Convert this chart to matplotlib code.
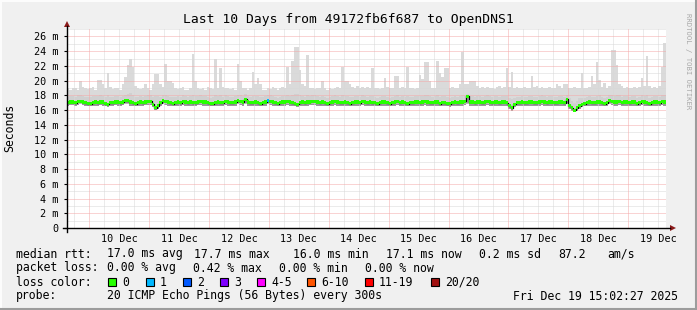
import numpy as np
import matplotlib
matplotlib.use("Agg")
import matplotlib.pyplot as plt
from matplotlib.patches import Rectangle, Polygon
from matplotlib.lines import Line2D

# ---------------- data (hourly bins, Dec 9 15:00 -> Dec 19 15:00), values in ms ----------------
max_ms = [
    19.0,18.8,19.0,19.0,18.8,20.0,19.2,19.0,18.9,19.0,19.1,18.8,20.1,20.1,19.5,19.0,21.1,19.2,18.9,19.0,19.0,18.8,19.5,20.5,
    22.1,22.9,21.8,19.3,19.0,18.9,19.0,19.5,19.0,18.8,19.5,20.9,20.9,19.5,19.2,22.2,20.0,20.0,19.7,19.0,18.9,19.0,19.1,18.8,
    18.8,19.0,23.6,20.0,19.0,18.9,19.0,18.8,19.1,19.0,18.9,23.0,19.0,21.7,19.2,19.0,19.0,18.9,19.0,18.8,22.3,20.0,19.0,19.0,
    18.8,19.0,21.2,19.5,20.3,19.6,18.8,18.8,19.0,18.9,19.1,19.0,18.8,19.0,19.2,19.0,21.9,19.5,22.7,24.6,24.6,21.5,19.5,19.3,
    23.5,19.0,19.0,18.9,19.0,19.0,20.0,19.0,18.8,19.0,18.9,19.0,19.1,19.0,21.9,20.0,20.0,19.5,19.2,19.0,19.3,19.0,19.2,19.0,
    19.1,19.0,21.7,19.0,19.0,18.9,19.0,20.3,19.2,19.0,19.0,20.7,20.7,19.0,19.2,19.0,21.9,19.0,19.0,18.9,19.0,20.8,20.2,22.5,
    22.5,20.0,19.0,19.0,22.7,21.0,20.5,21.7,21.7,19.0,19.2,19.0,19.0,19.5,23.9,19.5,19.5,20.0,20.0,20.0,19.3,19.0,19.1,19.0,
    19.1,19.0,19.0,18.9,19.2,19.3,19.0,19.1,21.7,19.2,21.2,19.0,19.1,19.0,19.0,19.2,19.0,19.0,20.6,19.2,19.3,19.0,19.2,19.0,
    19.0,19.2,19.0,19.0,19.5,19.3,19.0,19.6,19.5,19.0,19.0,19.2,19.0,19.0,21.0,19.0,19.0,19.2,20.7,19.5,22.5,20.1,19.2,19.7,
    19.0,19.3,24.1,24.1,22.1,19.5,19.3,19.0,19.2,19.0,19.0,19.2,19.0,19.1,20.3,19.3,23.3,19.3,19.0,19.2,19.0,19.3,21.9,25.1,
]
hi_ms = [
    17.8,17.9,17.9,17.8,18.0,18.0,17.9,17.8,17.8,17.8,17.9,17.9,17.9,18.0,17.9,17.8,18.0,17.8,17.8,17.9,17.9,17.8,17.9,18.1,
    18.2,18.3,18.1,17.8,17.8,17.9,17.8,17.9,18.0,18.0,17.8,17.9,17.9,17.8,18.0,18.1,17.9,17.8,17.8,17.8,17.9,17.8,18.0,17.9,
    17.8,17.9,18.1,17.9,17.9,18.0,17.9,17.9,17.8,17.7,17.8,18.1,17.9,18.0,17.8,18.0,17.9,17.8,17.8,17.9,18.1,18.0,17.9,18.2,
    17.9,17.8,17.9,17.9,17.9,17.8,17.8,17.9,18.1,18.0,17.9,17.8,17.7,17.8,17.9,17.9,18.0,17.9,18.1,18.2,18.2,18.0,17.9,17.8,
    18.1,17.9,18.0,18.0,17.9,17.8,17.9,17.8,17.7,17.8,17.9,18.0,17.9,17.8,18.0,17.9,17.9,17.8,17.8,17.9,17.9,17.8,18.0,17.9,
    17.8,17.9,17.9,17.8,17.7,17.8,17.9,17.9,17.8,17.7,17.8,17.9,18.0,17.8,17.9,17.8,17.9,17.8,17.8,17.9,17.9,17.9,17.9,18.1,
    18.1,17.9,17.8,17.9,18.0,17.8,17.9,17.9,17.8,17.7,17.8,17.9,17.8,17.9,18.0,18.0,18.2,17.9,17.9,17.8,17.9,17.9,17.8,17.9,
    18.0,17.9,17.8,17.9,17.9,17.8,17.9,17.9,17.9,17.6,17.5,17.7,17.8,17.8,17.9,17.8,17.8,17.9,17.9,17.8,17.8,17.9,18.0,17.9,
    17.8,17.9,17.9,17.8,17.8,17.9,17.9,17.8,18.1,17.6,17.3,17.0,17.3,17.6,17.7,17.7,17.8,17.9,17.8,17.8,17.9,18.0,17.8,17.7,
    17.8,18.0,18.1,17.9,18.0,18.0,17.8,17.9,17.9,17.8,17.9,17.9,17.7,17.8,18.0,17.9,18.0,17.7,17.8,17.9,17.9,17.8,18.1,18.1,
]
median_ms = [
    17.0,17.1,17.1,17.0,17.2,17.2,17.1,17.0,16.9,16.9,17.0,17.1,17.0,17.1,17.1,16.9,16.8,17.0,17.0,17.1,17.1,17.0,17.1,17.3,
    17.3,17.1,17.0,16.9,17.0,17.1,17.0,17.1,17.2,17.2,16.8,16.3,16.6,17.0,17.3,17.2,17.1,17.0,16.9,17.0,17.1,17.0,17.2,17.1,
    17.0,17.1,17.0,17.0,17.1,17.2,17.1,17.1,17.0,16.9,16.9,17.0,17.1,17.0,17.0,17.2,17.1,17.0,17.0,17.1,17.3,17.2,17.1,17.5,
    17.1,17.0,17.0,17.1,17.0,16.9,17.0,17.1,17.3,17.2,17.1,17.0,16.9,17.0,17.1,17.1,17.2,17.1,17.0,16.9,16.8,17.0,17.1,17.0,
    17.1,17.1,17.2,17.2,17.1,17.0,17.1,17.0,16.9,17.0,17.1,17.2,17.1,17.0,17.0,17.1,17.0,16.9,17.0,17.1,17.1,17.0,17.2,17.1,
    17.0,17.1,17.0,17.0,16.9,17.0,17.1,17.1,17.0,16.9,17.0,17.1,17.2,17.0,17.1,17.0,16.9,17.0,17.0,17.1,17.1,17.0,17.1,17.2,
    17.1,17.0,17.0,17.1,17.1,16.9,17.0,17.0,16.9,16.9,17.0,17.1,17.0,17.1,17.1,17.2,17.9,17.1,17.1,17.0,17.1,17.1,17.0,17.1,
    17.2,17.1,17.0,17.1,17.1,17.0,17.1,17.1,17.0,16.6,16.3,16.8,17.0,17.0,17.1,17.0,17.0,17.1,17.1,17.0,17.0,17.1,17.2,17.1,
    17.0,17.1,17.1,17.0,17.0,17.1,17.1,17.0,17.5,16.6,16.3,16.0,16.3,16.6,16.8,16.9,17.0,17.1,17.0,17.0,17.1,17.1,17.0,16.9,
    17.0,17.3,17.2,17.1,17.1,17.2,17.0,17.1,17.1,17.0,17.1,17.1,16.9,17.0,17.2,17.1,17.0,16.9,17.0,17.1,17.1,17.0,17.2,17.1,
]
lo_ms = [
    16.6,16.7,16.7,16.6,16.7,16.8,16.7,16.6,16.5,16.5,16.6,16.6,16.6,16.7,16.6,16.5,16.4,16.6,16.6,16.7,16.6,16.6,16.7,16.8,
    16.8,16.6,16.6,16.5,16.6,16.6,16.6,16.7,16.7,16.7,16.4,16.0,16.2,16.6,16.8,16.7,16.6,16.6,16.5,16.6,16.6,16.6,16.7,16.6,
    16.6,16.6,16.6,16.6,16.7,16.7,16.6,16.6,16.6,16.5,16.5,16.6,16.6,16.6,16.6,16.7,16.6,16.6,16.6,16.6,16.8,16.7,16.6,16.9,
    16.6,16.6,16.6,16.6,16.6,16.5,16.6,16.6,16.8,16.7,16.6,16.6,16.5,16.6,16.6,16.6,16.7,16.6,16.6,16.5,16.4,16.6,16.6,16.6,
    16.6,16.7,16.7,16.7,16.6,16.6,16.6,16.6,16.5,16.6,16.6,16.7,16.6,16.6,16.6,16.6,16.6,16.5,16.6,16.6,16.6,16.6,16.7,16.6,
    16.6,16.6,16.6,16.6,16.5,16.6,16.6,16.6,16.6,16.5,16.6,16.6,16.7,16.6,16.6,16.6,16.5,16.6,16.6,16.6,16.6,16.6,16.6,16.7,
    16.6,16.6,16.6,16.6,16.6,16.5,16.6,16.6,16.5,16.4,16.6,16.6,16.6,16.6,16.6,16.7,16.8,16.6,16.6,16.6,16.6,16.6,16.6,16.6,
    16.7,16.6,16.6,16.6,16.6,16.6,16.6,16.6,16.6,16.2,15.9,16.4,16.6,16.6,16.6,16.6,16.6,16.6,16.6,16.6,16.6,16.6,16.7,16.6,
    16.6,16.6,16.6,16.6,16.6,16.6,16.6,16.6,16.9,16.2,15.9,15.7,15.9,16.2,16.4,16.5,16.6,16.6,16.6,16.6,16.6,16.6,16.6,16.5,
    16.6,16.8,16.7,16.6,16.6,16.7,16.6,16.6,16.6,16.6,16.6,16.6,16.5,16.6,16.7,16.6,16.6,16.5,16.6,16.6,16.6,16.6,16.7,16.6,
]
# pings lost (of 20) per bin: only one bin with a single loss
loss_bins = [80]
loss_counts = [1]

y_ticks = [0, 2, 4, 6, 8, 10, 12, 14, 16, 18, 20, 22, 24, 26]
y_ticklabels = ["0", "2 m", "4 m", "6 m", "8 m", "10 m", "12 m", "14 m", "16 m",
                "18 m", "20 m", "22 m", "24 m", "26 m"]
day_labels = ["10 Dec", "11 Dec", "12 Dec", "13 Dec", "14 Dec",
              "15 Dec", "16 Dec", "17 Dec", "18 Dec", "19 Dec"]
first_midnight_h = 8.96   # Dec 10 00:00 in hours after the start

loss_legend = ["0", "1", "2", "3", "4-5", "6-10", "11-19", "20/20"]
loss_colors = ["#26ff00", "#00b8ff", "#0059ff", "#7e00ff", "#ff00ff", "#ff5500", "#ff0000", "#a01010"]

title = "Last 10 Days from 49172fb6f687 to OpenDNS1"
row_rtt = [("median rtt:", 16), ("17.0 ms avg", 107), ("17.7 ms max", 194),
           ("16.0 ms min", 293), ("17.1 ms now", 386), ("0.2 ms sd", 479),
           ("87.2", 558), ("am/s", 607)]
row_loss = [("packet loss:", 16), ("0.00 % avg", 107), ("0.42 % max", 193),
            ("0.00 % min", 279), ("0.00 % now", 365)]
probe_text = "20 ICMP Echo Pings (56 Bytes) every 300s"
date_text = "Fri Dec 19 15:02:27 2025"

# ---------------- figure ----------------
W, H = 697, 310
fig = plt.figure(figsize=(W / 100, H / 100), dpi=100, facecolor="#f0f0f0")
MONO = "DejaVu Sans Mono"

def fx(px):
    return px / W

def fy(py):
    return 1 - py / H

AX_L, AX_R, AX_T, AX_B = 67, 665.6, 29.1, 228
ax = fig.add_axes([fx(AX_L), fy(AX_B), (AX_R - AX_L) / W, (AX_B - AX_T) / H])
ax.set_facecolor("white")
n = len(max_ms)
edges = np.arange(n + 1)
ax.set_xlim(0, n)
ax.set_ylim(0, 27)
for s in ax.spines.values():
    s.set_visible(False)

def ext(a):
    a = np.asarray(a, dtype=float)
    return np.append(a, a[-1])

mx, hi, md, lo = ext(max_ms), ext(hi_ms), ext(median_ms), ext(lo_ms)

# smoke
ax.fill_between(edges, lo, mx, step="post", color="#dadada", lw=0, zorder=1)
ax.fill_between(edges, lo, hi, step="post", color="#d0d0d0", lw=0, zorder=1.1)
ax.fill_between(edges, lo, md, step="post", color="#9a9a9a", lw=0, zorder=1.2)

# grid (on top of smoke)
gray = "#d8d8d8"
red = "#f4a8a8"
dot = (0, (1, 1))
for v in np.arange(1, 28, 1):
    if v % 2 == 1 or v == 27:
        ax.axhline(v, color=gray, lw=0.72, ls=dot, zorder=2)
for v in np.arange(2, 27, 2):
    ax.axhline(v, color=red, lw=0.72, ls=dot, zorder=2.1)
h6 = first_midnight_h - 6
while h6 < n:
    k = (h6 - first_midnight_h) / 24
    if abs(k - round(k)) > 1e-6:
        ax.axvline(h6, color=gray, lw=0.72, ls=dot, zorder=2)
    else:
        ax.axvline(h6, color=red, lw=0.72, ls=dot, zorder=2.1)
    h6 += 6

# median: black line underneath, coloured band by loss
ax.step(edges, md, where="post", color="black", lw=0.9, zorder=3)
bar_colors = [loss_colors[0]] * n
for b, c in zip(loss_bins, loss_counts):
    bar_colors[b] = loss_colors[c]
ax.bar(edges[:-1], 0.42, bottom=np.asarray(median_ms) - 0.21, width=1.0, align="edge",
       color=bar_colors, lw=0, zorder=3.5)

# ticks
ax.set_yticks(y_ticks)
ax.set_yticklabels(y_ticklabels, fontfamily=MONO, fontsize=7.3)
ax.tick_params(axis="y", length=2.5, width=0.8, pad=3.6, color="black", labelcolor="black")
noon = [first_midnight_h + 12 + 24 * k for k in range(len(day_labels))]
ax.set_xticks(noon)
ax.set_xticklabels(day_labels, fontfamily=MONO, fontsize=7.3)
ax.tick_params(axis="x", length=0, pad=4.5, labelcolor="black")

# axis lines with arrows
axc = "#000000"
arrow_c = "#8b1a1a"
fig.add_artist(Line2D([fx(63), fx(670)], [fy(228), fy(228)], color=axc, lw=1.0))
fig.add_artist(Line2D([fx(67), fx(67)], [fy(232), fy(26)], color=axc, lw=1.0))
fig.add_artist(Polygon([[fx(670), fy(225)], [fx(676), fy(228)], [fx(670), fy(231)]],
                       closed=True, color=arrow_c, lw=0))
fig.add_artist(Polygon([[fx(64), fy(27)], [fx(67), fy(21)], [fx(70), fy(27)]],
                       closed=True, color=arrow_c, lw=0))

# titles
fig.text(0.5, fy(19), title, ha="center", va="center", fontfamily=MONO, fontsize=9.4)
fig.text(fx(10), fy(128), "Seconds", rotation=90, ha="center", va="center",
         fontfamily=MONO, fontsize=8.3)
fig.text(fx(688), fy(61), "RRDTOOL / TOBI OETIKER", rotation=270, ha="center", va="center",
         fontfamily=MONO, fontsize=5.2, color="#a8a8a8")

# legend rows
for txt, x in row_rtt:
    fig.text(fx(x), fy(254), txt, ha="left", va="center", fontfamily=MONO, fontsize=8.3)
for txt, x in row_loss:
    fig.text(fx(x), fy(268), txt, ha="left", va="center", fontfamily=MONO, fontsize=8.3)
fig.text(fx(16), fy(282), "loss color:", ha="left", va="center", fontfamily=MONO, fontsize=8.3)
sq_x = [108, 146, 183, 220, 257, 307, 365, 431]
for lab, col, x in zip(loss_legend, loss_colors, sq_x):
    fig.add_artist(Rectangle((fx(x), fy(286)), 8 / W, 8 / H, facecolor=col,
                             edgecolor="black", lw=0.8))
    fig.text(fx(x + 14), fy(282), lab, ha="left", va="center", fontfamily=MONO, fontsize=8.3)
fig.text(fx(16), fy(296), "probe:", ha="left", va="center", fontfamily=MONO, fontsize=8.3)
fig.text(fx(107), fy(296), probe_text, ha="left", va="center", fontfamily=MONO, fontsize=8.3)
fig.text(fx(513), fy(296), date_text, ha="left", va="center", fontfamily=MONO, fontsize=8.3)

# 3D border
fig.add_artist(Line2D([0, 1], [fy(0.5), fy(0.5)], color="#fcfcfc", lw=1.5))
fig.add_artist(Line2D([fx(0.5), fx(0.5)], [0, 1], color="#fcfcfc", lw=1.5))
fig.add_artist(Line2D([0, 1], [fy(309), fy(309)], color="#9c9c9c", lw=1.5))
fig.add_artist(Line2D([fx(696), fx(696)], [0, 1], color="#9c9c9c", lw=1.5))

fig.savefig("out.png", dpi=100, facecolor=fig.get_facecolor())
